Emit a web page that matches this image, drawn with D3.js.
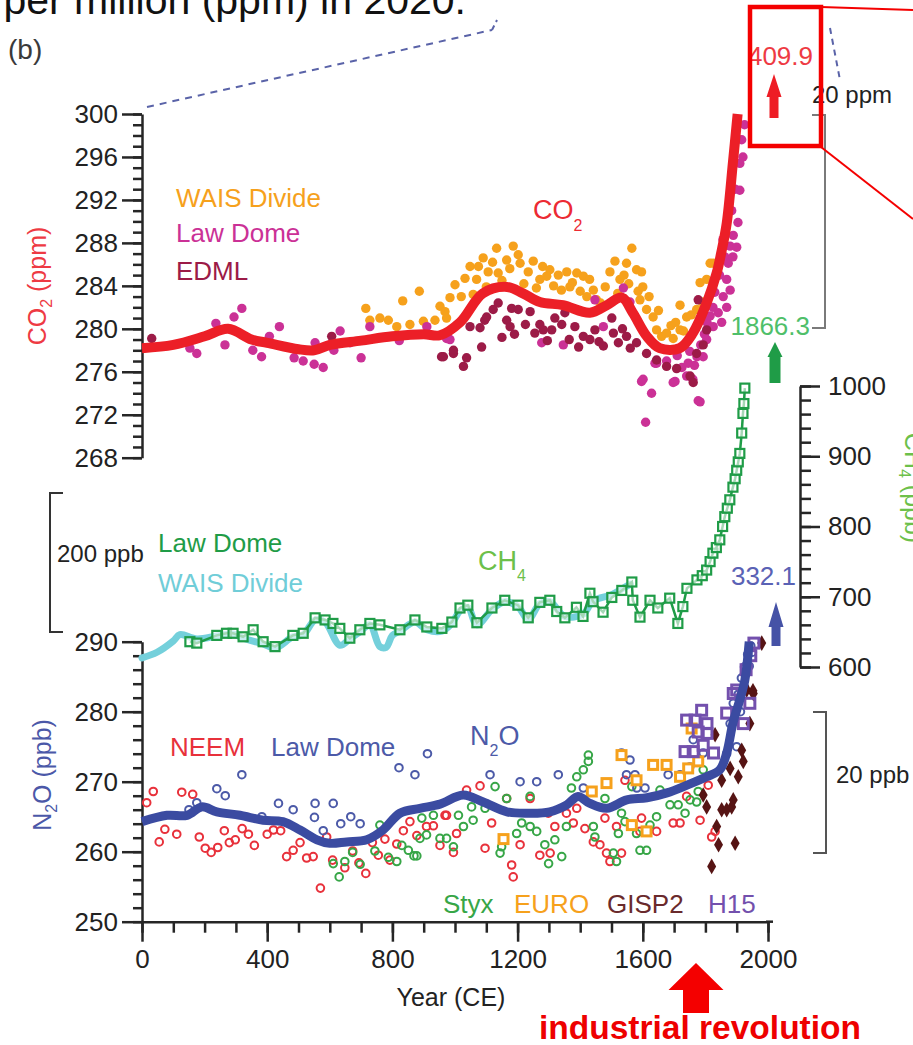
<!DOCTYPE html>
<html>
<head>
<meta charset="utf-8">
<script src="https://cdn.jsdelivr.net/npm/d3@7"></script>
<style>
  html, body { margin: 0; padding: 0; background: #fff; overflow: hidden; }
  svg { display: block; }
  text { font-family: "Liberation Sans", Arial, Helvetica, sans-serif; }
</style>
</head>
<body>
<svg id="chart" width="913" height="1045"></svg>
<script>
// ---------------- data ----------------
// Year ticks (CE)
const yearMajor = [0, 400, 800, 1200, 1600, 2000];
const yearMinor = d3.range(0, 2001, 100);
// Axis ticks
const co2Major = d3.range(268, 301, 4);
const co2Minor = d3.range(268, 301, 1);
const ch4Major = [600, 700, 800, 900, 1000];
const ch4Minor = d3.range(600, 1001, 20);
const n2oMajor = [250, 260, 270, 280, 290];
const n2oMinor = d3.range(250, 291, 2);

// CO2 spline (ppm)
const co2SplineYears = [0, 100, 200, 275, 350, 400, 500, 550, 600, 700, 800, 900, 952, 1016, 1089, 1166, 1217, 1271, 1345, 1431, 1485, 1533, 1568, 1613, 1654, 1718, 1760, 1804, 1836, 1850, 1868, 1888, 1903];
const co2SplineValues = [278.2, 278.5, 279.3, 280.0, 279.0, 278.7, 278.1, 278.0, 278.5, 278.9, 279.3, 279.5, 279.4, 280.6, 283.3, 283.9, 283.3, 282.5, 282.2, 281.5, 282.2, 282.9, 281.5, 279.3, 278.2, 278.2, 279.6, 282.4, 285.2, 287.0, 289.8, 295.5, 300.0];

// CO2 ice-core measurements [year, ppm]
const co2Wais = [[715,281.9],[728,280.8],[760,281.0],[787,280.8],[814,280.2],[833,282.6],[856,280.4],[886,283.5],[899,280.7],[936,280.8],[952,282.1],[968,281.6],[973,281.0],[984,282.9],[1000,284.1],[1020,283.0],[1032,284.7],[1048,285.8],[1058,283.2],[1069,284.6],[1075,285.8],[1090,286.6],[1100,283.9],[1106,285.3],[1120,286.2],[1133,287.5],[1138,285.2],[1150,284.5],[1165,286.4],[1175,285.6],[1186,287.7],[1202,286.9],[1208,286.1],[1220,284.2],[1234,285.3],[1250,286.3],[1260,283.8],[1271,284.6],[1280,285.8],[1293,284.9],[1303,285.5],[1315,284.0],[1330,285.0],[1340,283.6],[1357,285.3],[1367,283.9],[1375,284.3],[1389,285.2],[1400,283.5],[1410,284.9],[1421,283.0],[1430,284.6],[1442,283.6],[1452,282.7],[1465,282.4],[1480,283.9],[1495,285.3],[1511,286.3],[1520,283.3],[1527,284.6],[1540,285.0],[1548,286.1],[1555,284.2],[1565,287.5],[1580,285.5],[1585,283.5],[1591,282.7],[1596,285.3],[1600,283.9],[1612,281.8],[1620,283.0],[1633,281.1],[1644,279.9],[1650,281.7],[1660,279.3],[1676,279.6],[1690,280.3],[1697,279.1],[1705,280.6],[1719,282.2],[1719,279.9],[1730,279.8],[1740,281.1],[1755,281.3],[1772,281.8],[1783,284.3],[1790,282.5],[1804,284.6],[1815,286.1],[1825,286.1]];
const co2LawDome = [[153,278.2],[175,277.7],[236,280.5],[265,278.5],[294,281.1],[319,281.9],[354,278.0],[382,277.4],[407,279.3],[439,280.2],[486,277.3],[515,277.0],[550,276.7],[553,278.7],[579,276.4],[613,278.0],[633,279.8],[665,278.7],[700,277.3],[728,280.2],[822,278.9],[910,280.2],[973,279.1],[984,279.0],[1277,278.7],[1346,278.5],[1447,282.7],[1474,280.2],[1538,283.8],[1559,282.5],[1596,275.1],[1601,275.3],[1609,271.3],[1628,274.0],[1639,276.8],[1644,276.8],[1676,277.0],[1697,275.0],[1703,275.1],[1710,277.5],[1725,276.4],[1740,275.6],[1745,276.8],[1750,277.9],[1760,275.3],[1765,276.6],[1773,277.4],[1777,273.3],[1783,273.2],[1785,278.5],[1793,277.4],[1797,279.5],[1804,279.0],[1805,280.6],[1815,281.2],[1824,282.0],[1825,280.2],[1830,283.4],[1841,281.5],[1845,285.0],[1852,280.6],[1856,288.3],[1857,283.0],[1862,286.7],[1868,282.0],[1868,284.6],[1873,286.1],[1879,283.6],[1879,287.7],[1884,291.0],[1888,286.7],[1889,288.7],[1895,293.0],[1900,287.6],[1904,289.9],[1910,292.9],[1910,295.4],[1916,297.6],[1920,296.0],[1925,299.0]];
const co2Edml = [[31,279.1],[606,279.3],[957,277.4],[963,277.4],[995,277.7],[995,278.0],[1027,276.5],[1037,277.3],[1048,280.2],[1080,280.1],[1085,278.3],[1095,280.8],[1101,281.1],[1122,281.8],[1138,282.4],[1150,279.2],[1165,280.8],[1176,280.2],[1181,281.9],[1190,279.5],[1202,281.8],[1225,280.4],[1240,281.6],[1255,279.6],[1271,280.4],[1282,279.9],[1295,278.9],[1309,279.9],[1319,281.0],[1341,280.4],[1351,281.5],[1365,279.0],[1383,280.2],[1395,278.3],[1410,279.3],[1431,279.0],[1447,279.9],[1460,278.8],[1474,278.4],[1501,281.0],[1506,279.6],[1522,278.7],[1535,280.0],[1548,279.3],[1560,278.2],[1580,278.7],[1612,277.7],[1644,277.1],[1676,276.5],[1708,276.3],[1751,275.6],[1761,275.0],[1772,277.7],[1777,282.7],[1793,278.5],[1804,279.9]];

// CH4 (ppb)
const ch4LawYears = [153, 175, 239, 270, 291, 323, 355, 387, 425, 482, 515, 553, 585, 610, 632, 664, 696, 728, 760, 824, 872, 910, 958, 990, 1016, 1041, 1070, 1118, 1159, 1201, 1234, 1271, 1303, 1325, 1351, 1388, 1409, 1431, 1441, 1473, 1501, 1533, 1565, 1568, 1591, 1623, 1648, 1686, 1712, 1728, 1741, 1773, 1790, 1804, 1815, 1824, 1835, 1846, 1855, 1862, 1870, 1878, 1888, 1895, 1900, 1905, 1910, 1916, 1920, 1923, 1926];
const ch4LawValues = [636, 634, 645, 648, 648, 643, 653, 636, 629, 645, 648, 670, 667, 662, 655, 641, 653, 662, 660, 653, 667, 657, 655, 664, 684, 688, 663, 684, 695, 688, 670, 692, 695, 679, 670, 685, 672, 705, 693, 678, 699, 709, 721, 695, 671, 695, 684, 698, 662, 686, 712, 724, 730, 738, 750, 762, 770, 781, 800, 814, 826, 838, 856, 868, 880, 892, 904, 933, 961, 975, 997];
const ch4WaisYears = [0, 48, 100, 121, 175, 239, 290, 323, 387, 425, 482, 515, 553, 585, 632, 664, 696, 728, 760, 780, 800, 824, 872, 910, 958, 990, 1016, 1041, 1070, 1118, 1159, 1201, 1234, 1271, 1303, 1351, 1409, 1441, 1501, 1533, 1560];
const ch4WaisValues = [613, 621, 637, 646, 640, 644, 647, 641, 633, 627, 643, 646, 667, 664, 631, 640, 650, 660, 629, 628, 645, 651, 664, 653, 651, 662, 680, 685, 660, 682, 693, 686, 668, 690, 693, 672, 675, 694, 703, 711, 718];

// N2O spline (ppb)
const n2oSplineYears = [0, 80, 144, 191, 239, 313, 387, 450, 505, 559, 600, 654, 718, 770, 824, 888, 952, 1026, 1090, 1166, 1239, 1303, 1357, 1393, 1431, 1485, 1549, 1613, 1677, 1741, 1804, 1846, 1868, 1888, 1910, 1926, 1940];
const n2oSplineValues = [264.3, 265.2, 265.2, 266.4, 265.7, 265.2, 264.5, 264.3, 263.1, 261.7, 261.2, 261.4, 261.7, 263.1, 265.5, 266.2, 266.8, 268.1, 267.1, 265.7, 265.5, 265.7, 266.7, 267.9, 266.9, 266.2, 267.4, 267.7, 268.4, 269.5, 270.7, 271.7, 274.1, 278.4, 281.7, 284.5, 290.0];

// N2O measurements [year, ppb]
const n2oNeem = [[15,267.0],[36,268.6],[55,261.4],[73,263.2],[111,262.5],[127,268.5],[162,268.2],[183,262.1],[202,260.5],[221,259.9],[242,260.6],[263,263.0],[279,261.3],[298,261.7],[320,263.3],[340,262.5],[359,260.9],[400,262.5],[420,263.1],[443,263.0],[462,259.3],[483,260.2],[505,261.3],[526,259.1],[547,259.3],[570,254.8],[590,262.1],[609,258.8],[648,257.7],[673,260.1],[693,258.4],[715,256.9],[736,261.3],[755,259.5],[776,261.8],[792,258.8],[814,261.1],[835,263.0],[856,264.3],[878,262.3],[909,263.6],[931,263.7],[952,260.9],[968,265.2],[973,265.2],[995,259.9],[1005,262.6],[1037,268.8],[1080,269.4],[1096,260.5],[1117,264.1],[1165,267.6],[1181,258.1],[1186,256.4],[1208,261.0],[1240,267.6],[1271,259.5],[1298,265.5],[1304,259.8],[1319,263.6],[1356,265.5],[1378,264.1],[1389,266.2],[1415,263.3],[1442,261.4],[1463,261.0],[1479,264.8],[1484,259.8],[1495,258.6],[1516,263.6],[1532,259.8],[1543,270.2],[1591,262.9],[1596,264.8],[1644,262.9],[1697,264.1],[1719,264.1],[1740,267.9],[1783,264.5],[1809,269.5],[1820,262.1],[1831,262.9]];
const n2oLawDome = [[150,266.0],[175,267.0],[239,269.0],[266,268.0],[319,271.0],[383,265.0],[436,266.9],[483,266.0],[551,264.9],[553,266.9],[579,263.0],[611,266.9],[635,264.0],[667,265.0],[697,264.0],[821,272.0],[872,271.0],[912,274.0],[1112,271.0],[1208,270.0],[1261,270.0],[1330,271.0],[1410,269.1],[1532,274.1],[1548,271.0],[1559,273.1],[1575,271.0],[1581,269.1],[1607,269.1],[1681,271.0],[1719,271.0],[1750,272.1],[1761,276.0],[1793,274.1],[1868,274.0],[1879,278.3],[1889,281.2],[1900,275.0],[1905,282.5],[1912,280.0],[1915,284.8],[1925,286.4],[1925,283.5],[1935,288.2],[1940,286.5],[1945,289.4],[1950,288.5]];
const n2oStyx = [[611,258.3],[630,256.4],[648,258.6],[673,259.9],[697,258.2],[744,260.1],[760,263.8],[787,259.2],[814,258.6],[830,260.9],[851,260.2],[869,259.4],[878,259.4],[888,261.9],[894,264.8],[909,262.4],[931,265.2],[952,261.9],[973,261.9],[995,260.7],[1011,265.2],[1027,263.6],[1053,266.4],[1058,264.5],[1096,266.2],[1128,269.3],[1144,259.8],[1149,260.7],[1165,267.6],[1197,262.6],[1213,264.1],[1240,267.9],[1240,263.6],[1261,262.9],[1287,261.0],[1299,258.3],[1319,261.7],[1341,259.3],[1356,263.6],[1372,269.1],[1389,270.7],[1410,271.7],[1426,272.9],[1426,273.8],[1442,263.6],[1447,262.1],[1479,267.6],[1506,259.8],[1516,258.6],[1522,262.6],[1532,265.5],[1543,264.3],[1565,269.3],[1580,262.6],[1591,260.2],[1612,260.2],[1623,263.8],[1644,265.0],[1655,268.8],[1687,266.7],[1713,266.7],[1735,265.5],[1751,267.4],[1772,267.1],[1777,268.6],[1793,271.7]];
const n2oEuro = [[1155,261.8],[1437,268.6],[1484,269.8],[1532,273.8],[1565,263.8],[1580,270.2],[1612,262.9],[1633,272.4],[1676,272.4],[1719,270.7],[1745,271.9],[1756,277.6],[1777,272.9]];
const n2oGisp2 = [[1793,268.1],[1804,266.4],[1820,257.9],[1831,276.7],[1836,263.6],[1842,261.0],[1852,270.2],[1852,266.0],[1868,266.0],[1879,271.9],[1884,266.4],[1889,267.4],[1895,261.2],[1905,270.7],[1916,274.5],[1921,272.9],[1932,283.1],[1942,278.3],[1952,283.0],[1953,282.6],[1980,289.8]];
const n2oH15 = [[1735,274.3],[1740,278.8],[1761,274.3],[1767,278.8],[1777,277.1],[1788,280.2],[1793,275.2],[1805,278.3],[1805,276.9],[1826,274.1],[1868,279.8],[1889,282.6],[1900,283.1],[1921,278.3],[1930,286.0],[1942,281.2],[1945,288.0],[1955,289.8]];

// ---------------- drawing ----------------
const svg = d3.select('#chart');
const AXIS = '#262626';

const x = d3.scaleLinear().domain([0, 2000]).range([142, 768]);
const yCO2 = d3.scaleLinear().domain([268, 300]).range([457.7, 114]);
const yCH4 = d3.scaleLinear().domain([600, 1000]).range([667, 386]);
const yN2O = d3.scaleLinear().domain([250, 290]).range([921.7, 641.7]);

// Heading line from the surrounding page (cropped at the top)
svg.append('text').attr('x', 466).attr('y', 14).attr('text-anchor', 'end')
  .attr('font-family', '"Open Sans", "Noto Sans", sans-serif').attr('font-size', 41).attr('fill', '#111')
  .text('per million (ppm) in 2020.');

svg.append('text').attr('x', 8).attr('y', 59).attr('font-size', 28).attr('fill', '#3a3a3a').text('(b)');

// Connector lines toward panel (a) and the zoom box
svg.append('line').attr('x1', 147).attr('y1', 107).attr('x2', 492).attr('y2', 30)
  .attr('stroke', '#5a63a8').attr('stroke-width', 2).attr('stroke-dasharray', '7,6');
svg.append('line').attr('x1', 492).attr('y1', 30).attr('x2', 497).attr('y2', 20)
  .attr('stroke', '#5a63a8').attr('stroke-width', 2).attr('stroke-dasharray', '5,4');
svg.append('line').attr('x1', 830).attr('y1', 28).attr('x2', 840).attr('y2', 80)
  .attr('stroke', '#5a63a8').attr('stroke-width', 2).attr('stroke-dasharray', '6,5');

function styleAxis(g, size) {
  g.attr('font-size', size).attr('font-family', '"Liberation Sans", Arial, sans-serif');
  g.selectAll('.domain').attr('stroke', AXIS).attr('stroke-width', 2.5);
  g.selectAll('.tick line').attr('stroke', AXIS).attr('stroke-width', 2.5);
  g.selectAll('.tick text').attr('fill', '#222');
}

function drawAxis(gen, scale, majors, minors, tx, ty, majorLen, minorLen, pad, fmt) {
  const gMin = svg.append('g').attr('transform', `translate(${tx},${ty})`)
    .call(gen(scale).tickValues(minors).tickSize(minorLen).tickSizeOuter(0).tickFormat(''));
  gMin.select('.domain').remove();
  styleAxis(gMin, 26);
  const gMaj = svg.append('g').attr('transform', `translate(${tx},${ty})`)
    .call(gen(scale).tickValues(majors).tickSize(majorLen).tickPadding(pad).tickSizeOuter(0).tickFormat(fmt || d3.format('d')));
  styleAxis(gMaj, 26);
  return gMaj;
}

// Axes
drawAxis(d3.axisLeft, yCO2, co2Major, co2Minor, 142, 0, 20, 9, 4);
drawAxis(d3.axisLeft, yN2O, n2oMajor, n2oMinor, 142, 0, 20, 9, 4);
drawAxis(d3.axisRight, yCH4, ch4Major, ch4Minor, 800, 0, 20, 11, 8);
drawAxis(d3.axisBottom, x, yearMajor, yearMinor, 0, 921.7, 20, 11, 8);
svg.append('line').attr('x1', 766).attr('x2', 773).attr('y1', 921.7).attr('y2', 921.7)
  .attr('stroke', AXIS).attr('stroke-width', 2.5);

svg.append('text').attr('x', 451).attr('y', 1006).attr('text-anchor', 'middle')
  .attr('font-size', 25).attr('fill', '#222').text('Year (CE)');

// Axis titles
const co2Title = svg.append('text').attr('transform', 'translate(46,286) rotate(-90)')
  .attr('text-anchor', 'middle').attr('font-size', 25).attr('fill', '#ee3a43');
co2Title.append('tspan').text('CO');
co2Title.append('tspan').attr('font-size', 16).attr('dy', 6).text('2');
co2Title.append('tspan').attr('dy', -6).text(' (ppm)');

const n2oTitle = svg.append('text').attr('transform', 'translate(51,775) rotate(-90)')
  .attr('text-anchor', 'middle').attr('font-size', 25).attr('fill', '#4b58a8');
n2oTitle.append('tspan').text('N');
n2oTitle.append('tspan').attr('font-size', 16).attr('dy', 6).text('2');
n2oTitle.append('tspan').attr('dy', -6).text('O (ppb)');

const ch4Title = svg.append('text').attr('transform', 'translate(905,488) rotate(90)')
  .attr('text-anchor', 'middle').attr('font-size', 25).attr('fill', '#6cc04a');
ch4Title.append('tspan').text('CH');
ch4Title.append('tspan').attr('font-size', 16).attr('dy', 6).text('4');
ch4Title.append('tspan').attr('dy', -6).text(' (ppb)');

// ---- CO2 panel ----
const dot = (sel, data, color, r) => sel.selectAll(null).data(data).join('circle')
  .attr('cx', d => x(d[0])).attr('cy', d => yCO2(d[1])).attr('r', r).attr('fill', color);
const gCO2 = svg.append('g');
dot(gCO2, co2Wais, '#f6a11c', 4.7);
dot(gCO2, co2LawDome, '#cb3196', 4.7);
dot(gCO2, co2Edml, '#9c1b47', 4.7);

const co2Spline = co2SplineYears.map((yr, i) => [yr, co2SplineValues[i]]);
gCO2.append('path').datum(co2Spline)
  .attr('fill', 'none').attr('stroke', '#ec1f27').attr('stroke-width', 10).attr('stroke-linejoin', 'round')
  .attr('d', d3.line().x(d => x(d[0])).y(d => yCO2(d[1])).curve(d3.curveCatmullRom.alpha(0.5)));

// ---- CH4 panel ----
const gCH4 = svg.append('g');
const ch4Wais = ch4WaisYears.map((yr, i) => [yr, ch4WaisValues[i]]);
const ch4Law = ch4LawYears.map((yr, i) => [yr, ch4LawValues[i]]);
gCH4.append('path').datum(ch4Wais)
  .attr('fill', 'none').attr('stroke', '#74d0db').attr('stroke-width', 7).attr('stroke-linejoin', 'round').attr('stroke-linecap', 'round')
  .attr('d', d3.line().x(d => x(d[0])).y(d => yCH4(d[1])).curve(d3.curveCatmullRom.alpha(0.5)));
gCH4.append('path').datum(ch4Law)
  .attr('fill', 'none').attr('stroke', '#1f9c47').attr('stroke-width', 2.5)
  .attr('d', d3.line().x(d => x(d[0])).y(d => yCH4(d[1])));
gCH4.selectAll(null).data(ch4Law).join('rect')
  .attr('x', d => x(d[0]) - 4.5).attr('y', d => yCH4(d[1]) - 4.5).attr('width', 9).attr('height', 9)
  .attr('fill', '#fff').attr('fill-opacity', 0.6).attr('stroke', '#1f9c47').attr('stroke-width', 2.2);

// ---- N2O panel ----
const gN2O = svg.append('g');
const ring = (data, color) => gN2O.selectAll(null).data(data).join('circle')
  .attr('cx', d => x(d[0])).attr('cy', d => yN2O(d[1])).attr('r', 3.8)
  .attr('fill', 'none').attr('stroke', color).attr('stroke-width', 2);
ring(n2oNeem, '#e8313b');
ring(n2oStyx, '#37a647');
ring(n2oLawDome, '#4c5aa8');
gN2O.selectAll(null).data(n2oEuro).join('rect')
  .attr('x', d => x(d[0]) - 4.5).attr('y', d => yN2O(d[1]) - 4.5).attr('width', 9).attr('height', 9)
  .attr('fill', '#fff').attr('stroke', '#f6a11c').attr('stroke-width', 3);
gN2O.selectAll(null).data(n2oGisp2).join('path')
  .attr('transform', d => `translate(${x(d[0])},${yN2O(d[1])})`)
  .attr('d', d3.symbol(d3.symbolDiamond, 70)).attr('fill', '#561414');
gN2O.selectAll(null).data(n2oH15).join('rect')
  .attr('x', d => x(d[0]) - 5).attr('y', d => yN2O(d[1]) - 5).attr('width', 10).attr('height', 10)
  .attr('fill', 'none').attr('stroke', '#7350ad').attr('stroke-width', 3);
const n2oSpline = n2oSplineYears.map((yr, i) => [yr, n2oSplineValues[i]]);
gN2O.append('path').datum(n2oSpline)
  .attr('fill', 'none').attr('stroke', '#3b4ba1').attr('stroke-width', 9).attr('stroke-linejoin', 'round')
  .attr('d', d3.line().x(d => x(d[0])).y(d => yN2O(d[1])).curve(d3.curveCatmullRom.alpha(0.5)));

// ---- legends & labels ----
function label(xp, yp, txt, color, size, anchor) {
  return svg.append('text').attr('x', xp).attr('y', yp).attr('font-size', size || 26)
    .attr('fill', color).attr('text-anchor', anchor || 'start').text(txt);
}
label(176, 207, 'WAIS Divide', '#f6a11c');
label(176, 242, 'Law Dome', '#cb3196');
label(176, 280, 'EDML', '#9c1b47');

const co2Lab = svg.append('text').attr('x', 533).attr('y', 219).attr('font-size', 27).attr('fill', '#ec2a33');
co2Lab.append('tspan').text('CO');
co2Lab.append('tspan').attr('font-size', 16).attr('dy', 12).text('2');

label(158, 552, 'Law Dome', '#1f9c47');
label(158, 592, 'WAIS Divide', '#70cdd8');
const ch4Lab = svg.append('text').attr('x', 478).attr('y', 570).attr('font-size', 27).attr('fill', '#6cc04a');
ch4Lab.append('tspan').text('CH');
ch4Lab.append('tspan').attr('font-size', 16).attr('dy', 11).text('4');

label(170, 756, 'NEEM', '#e8313b');
label(271, 756, 'Law Dome', '#4c5aa8');
const n2oLab = svg.append('text').attr('x', 470).attr('y', 745).attr('font-size', 27).attr('fill', '#4c5aa8');
n2oLab.append('tspan').text('N');
n2oLab.append('tspan').attr('font-size', 16).attr('dy', 11).text('2');
n2oLab.append('tspan').attr('dy', -11).text('O');

label(443, 913, 'Styx', '#37a647');
label(514, 913, 'EURO', '#f6a11c');
label(607, 913, 'GISP2', '#6a2a2c');
label(708, 913, 'H15', '#7350ad');

// Scale bars
const bracket = (xv, y1, y2, dir, color) => svg.append('path')
  .attr('d', `M${xv + dir * 13},${y1}H${xv}V${y2}H${xv + dir * 13}`)
  .attr('fill', 'none').attr('stroke', color).attr('stroke-width', 2);
bracket(825, 115, 328, -1, '#7a7a7a');
label(812, 103, '20 ppm', '#222', 24);
bracket(50, 493, 632, 1, '#333');
label(57, 562, '200 ppb', '#222', 24);
bracket(826, 712, 853, -1, '#555');
label(836, 783, '20 ppb', '#222', 24);

// Present-day values with arrows
function arrow(cx, tip, base, bottom, headHalf, shaftHalf, color) {
  svg.append('path')
    .attr('d', `M${cx},${tip}L${cx + headHalf},${base}H${cx + shaftHalf}V${bottom}H${cx - shaftHalf}V${base}H${cx - headHalf}Z`)
    .attr('fill', color);
}
label(813, 65, '409.9', '#ee3a43', 26, 'end');
arrow(774, 74, 97, 118, 7.5, 4.5, '#ee1d25');
label(810, 335, '1866.3', '#4fbf6a', 26, 'end');
arrow(775, 342, 357, 383, 7.5, 5.5, '#1f9c47');
label(796, 585, '332.1', '#5a62b5', 26, 'end');
arrow(776, 602, 627, 646, 7.5, 4.5, '#4552a6');

// Zoom box around the CO2 value
svg.append('rect').attr('x', 750).attr('y', 7).attr('width', 71).attr('height', 139)
  .attr('fill', 'none').attr('stroke', '#f40000').attr('stroke-width', 4.5);
svg.append('line').attr('x1', 821).attr('y1', 7).attr('x2', 913).attr('y2', 10)
  .attr('stroke', '#f40000').attr('stroke-width', 2);
svg.append('line').attr('x1', 821).attr('y1', 147).attr('x2', 913).attr('y2', 219)
  .attr('stroke', '#f40000').attr('stroke-width', 2);

// Industrial revolution marker
arrow(696, 963, 990, 1013, 27.5, 13, '#f40000');
svg.append('text').attr('x', 700).attr('y', 1039).attr('text-anchor', 'middle')
  .attr('font-size', 33.5).attr('font-weight', 'bold').attr('fill', '#ee0000')
  .text('industrial revolution');
</script>
</body>
</html>
